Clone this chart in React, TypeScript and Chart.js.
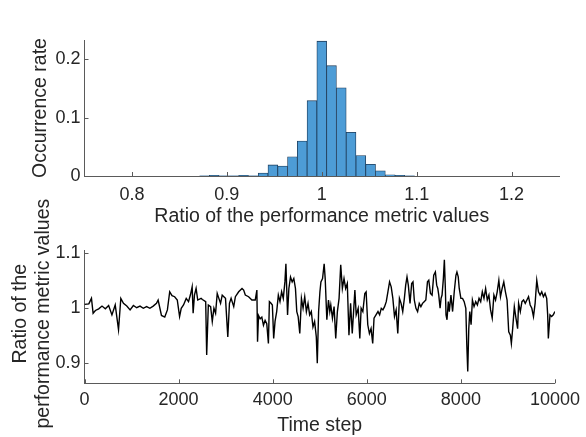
import React, { useEffect, useRef } from "react";
import { Chart, registerables } from "chart.js";

Chart.register(...registerables);

// ---- Histogram data ----
const binCenters = [
  0.8764, 0.8867, 0.897, 0.9073, 0.9176, 0.9279, 0.9382, 0.9485, 0.9588, 0.9691, 0.9794,
  0.9897, 1.0, 1.0103, 1.0206, 1.0309, 1.0412, 1.0515, 1.0618, 1.0721, 1.0824, 1.0927,
];
const occurrenceRates = [
  0.0005, 0.001, 0.0005, 0.0005, 0.001, 0.0005, 0.005, 0.019, 0.017, 0.033, 0.06,
  0.129, 0.231, 0.189, 0.151, 0.075, 0.035, 0.02, 0.009, 0.002, 0.001, 0.0005,
];
const histXTicks = [0.8, 0.9, 1, 1.1, 1.2];
const histYTicks = [0, 0.1, 0.2];
const histXTitle = "Ratio of the performance metric values";
const histYTitle = ["Occurrence rate"];

// ---- Time series data ----
const timeSteps = [
  0, 92, 148, 183, 232, 302, 372, 443, 513, 583, 653, 723, 772, 828, 899, 969, 1039, 1109, 1180, 1250,
  1320, 1390, 1460, 1530, 1565, 1636, 1706, 1762, 1811, 1860, 1916, 1972, 2021, 2056, 2105, 2162, 2211,
  2253, 2288, 2309, 2337, 2372, 2407, 2478,
  2506, 2576, 2597, 2632, 2681, 2716, 2751, 2786, 2821, 2856, 2892, 2927, 2962, 2997, 3046, 3081, 3116,
  3172, 3207, 3277, 3348, 3383, 3418, 3488, 3558, 3629, 3664, 3678, 3699, 3734, 3769, 3804, 3839, 3874,
  3909, 3930, 3965, 3993, 4021, 4050, 4085, 4120, 4155, 4190, 4225, 4260, 4281, 4316, 4344, 4379, 4414,
  4449, 4484, 4512, 4541, 4576, 4611, 4646, 4681, 4716, 4751, 4786, 4821, 4856, 4891, 4927, 4948, 4976,
  5004,
  5025, 5060, 5094, 5116, 5151, 5186, 5214, 5235, 5270, 5305, 5340, 5375, 5411, 5446, 5481, 5516, 5551,
  5586, 5621, 5656, 5691, 5726, 5747, 5775, 5817, 5852, 5880, 5916, 5958, 5986, 6021, 6056, 6091, 6126,
  6154, 6196, 6238, 6273, 6308, 6343, 6378, 6414, 6449, 6484, 6519, 6554, 6589, 6624, 6659, 6694, 6729,
  6764, 6799, 6827, 6855, 6883, 6919, 6954, 6982, 7010, 7045, 7080, 7115, 7150, 7185, 7220, 7255, 7290,
  7318, 7353, 7388, 7423, 7458, 7486,
  7509, 7530, 7558, 7579, 7600, 7628, 7649, 7670, 7684, 7705, 7733, 7754, 7789, 7824, 7859, 7895, 7916,
  7944, 7965, 8000, 8035, 8070, 8105, 8126, 8146, 8168, 8189, 8217, 8245, 8280, 8315, 8351, 8386, 8421,
  8456, 8491, 8526, 8561, 8596, 8631, 8666, 8702, 8737, 8772, 8807, 8842, 8877, 8912, 8947, 8982, 9017,
  9052, 9073, 9101, 9136, 9171, 9206, 9227, 9263, 9298, 9333, 9368, 9403, 9438, 9473, 9508, 9543, 9578,
  9613, 9649, 9684, 9719, 9754, 9789, 9824, 9845, 9859, 9894, 9929, 9964, 9999,
];
const ratioValues = [
  1.006, 1.007, 1.017, 0.99, 0.995, 0.998, 1.003, 0.998, 1.004, 0.987, 1.005, 0.96, 1.017, 1.008, 1.003,
  0.996, 1.004, 1.0, 1.003, 0.999, 1.002, 0.999, 1.003, 1.008, 1.014, 0.986, 0.983, 0.996, 1.029, 1.022,
  1.02, 1.014, 0.984, 0.999, 1.005, 1.017, 1.011, 1.024, 1.038, 0.99, 1.023, 1.035, 1.014, 1.017,
  1.015, 1.011, 0.914, 1.005, 1.002, 0.975, 0.999, 0.99, 1.026, 1.017, 1.008, 1.023, 1.02, 1.017, 0.947,
  1.008, 1.017, 1.002, 1.02, 1.029, 1.035, 1.032, 1.023, 1.02, 1.014, 1.014, 1.032, 0.938, 0.986, 0.98,
  0.983, 0.968, 0.977, 0.971, 0.935, 1.011, 1.008, 1.005, 0.944, 0.975, 0.993, 1.023, 1.011, 1.029, 1.017,
  1.047, 1.08, 0.987, 1.035, 1.056, 1.047, 1.053, 1.035, 0.993, 0.984, 0.953, 1.017, 0.999, 1.02, 0.993,
  1.008, 0.987, 0.993, 0.965, 0.975, 0.947, 0.899, 0.993, 1.029,
  1.047, 1.053, 1.08, 1.053, 0.978, 1.014, 0.993, 1.005, 0.981, 1.002, 0.944, 0.993, 1.017, 1.078, 1.035,
  1.053, 1.035, 1.044, 0.95, 1.008, 0.953, 1.002, 1.032, 0.987, 0.999, 0.944, 0.999, 0.993, 1.026, 1.029,
  0.969, 0.953, 0.962, 0.935, 0.981, 0.987, 0.993, 0.987, 0.999, 0.996, 1.002, 1.011, 1.029, 1.047, 1.038,
  1.017, 0.984, 0.996, 0.953, 1.017, 1.008, 0.993, 1.017, 1.041, 1.056, 1.041, 1.008, 1.044, 1.047, 1.014,
  0.999, 0.993, 1.008, 1.002, 1.008, 1.011, 1.014, 1.047, 1.05, 1.026, 1.023, 1.059, 1.065, 1.041,
  1.035, 1.023, 0.999, 1.017, 1.023, 1.053, 1.087, 1.035, 0.987, 0.978, 1.011, 0.993, 1.023, 0.993, 1.029,
  1.059, 1.065, 1.056, 1.035, 1.017, 1.017, 1.011, 0.999, 0.932, 0.884, 0.962, 0.993, 0.969, 1.014, 1.002,
  1.011, 1.005, 1.017, 1.011, 1.029, 1.017, 1.035, 1.014, 1.023, 0.996, 0.981, 1.023, 1.014, 1.029, 1.05,
  1.02, 1.035, 1.047, 1.029, 1.014, 0.956, 0.95, 0.935, 0.962, 1.002, 0.981, 0.962, 1.008, 0.993, 1.011,
  1.014, 1.008, 1.014, 1.02, 1.005, 0.999, 0.984, 1.008, 1.05, 1.029, 1.023, 1.029, 1.02, 1.026, 1.017,
  0.987, 0.944, 0.987, 0.984, 0.987, 0.993,
];
const lineXTicks = [0, 2000, 4000, 6000, 8000, 10000];
const lineYTicks = [0.9, 1, 1.1];
const lineXTitle = "Time step";
const lineYTitle = ["Ratio of the", "performance metric values"];

const FONT = "'Liberation Sans', Arial, Helvetica, sans-serif";
const TEXT = "#262626";
const AXIS = "#5a5a5a";

const inwardTicks = {
  id: "inwardTicks",
  afterDatasetsDraw(chart: any) {
    const { ctx, chartArea } = chart;
    const xs = chart.scales.x;
    const ys = chart.scales.y;
    ctx.save();
    ctx.strokeStyle = AXIS;
    ctx.lineWidth = 1;
    ctx.beginPath();
    xs.ticks.forEach((t: any) => {
      const px = Math.round(xs.getPixelForValue(t.value)) + 0.5;
      ctx.moveTo(px, chartArea.bottom);
      ctx.lineTo(px, chartArea.bottom - 4);
    });
    ys.ticks.forEach((t: any) => {
      const py = Math.round(ys.getPixelForValue(t.value)) + 0.5;
      ctx.moveTo(chartArea.left, py);
      ctx.lineTo(chartArea.left + 4, py);
    });
    ctx.stroke();
    ctx.restore();
  },
};

// Rotated y-axis title drawn without the width squeeze Chart.js applies
const makeYTitle = (lines: string[], firstX: number, lineGap: number, dy: number) => ({
  id: "yTitle",
  afterDraw(chart: any) {
    const { ctx, chartArea } = chart;
    const cy = (chartArea.top + chartArea.bottom) / 2 + dy;
    ctx.save();
    ctx.fillStyle = TEXT;
    ctx.font = `19.5px ${FONT}`;
    ctx.textAlign = "center";
    ctx.textBaseline = "middle";
    lines.forEach((line, i) => {
      ctx.save();
      ctx.translate(firstX + i * lineGap, cy);
      ctx.rotate(-Math.PI / 2);
      ctx.fillText(line, 0, 0);
      ctx.restore();
    });
    ctx.restore();
  },
});

const fixedTicks = (values: number[]) => (scale: any) => {
  scale.ticks = values.map((v) => ({ value: v }));
};

function axisX(min: number, max: number, ticks: number[], title: string, height: number, tickPad: number, titlePad: number) {
  return {
    type: "linear" as const,
    min,
    max,
    offset: false,
    afterBuildTicks: fixedTicks(ticks),
    afterFit: (s: any) => {
      s.height = height;
    },
    grid: { display: false, drawTicks: false },
    border: { display: true, color: AXIS, width: 1 },
    ticks: {
      autoSkip: false,
      maxRotation: 0,
      padding: tickPad,
      color: TEXT,
      font: { family: FONT, size: 18 },
      callback: (v: any) => String(v),
    },
    title: {
      display: true,
      text: title,
      color: TEXT,
      font: { family: FONT, size: 19.5, lineHeight: 1.2 },
      padding: { top: 0, bottom: titlePad },
    },
  };
}

function axisY(min: number, max: number, ticks: number[]) {
  return {
    type: "linear" as const,
    min,
    max,
    afterBuildTicks: fixedTicks(ticks),
    afterFit: (s: any) => {
      s.width = 84.5;
    },
    grid: { display: false, drawTicks: false },
    border: { display: true, color: AXIS, width: 1 },
    ticks: {
      padding: 4,
      color: TEXT,
      font: { family: FONT, size: 18 },
      callback: (v: any) => String(v),
    },
    title: { display: false },
  };
}

export default function App() {
  const topRef = useRef<HTMLCanvasElement>(null);
  const botRef = useRef<HTMLCanvasElement>(null);

  useEffect(() => {
    const hist = new Chart(topRef.current as HTMLCanvasElement, {
      type: "bar",
      data: {
        datasets: [
          {
            data: binCenters.map((c, i) => ({ x: c, y: occurrenceRates[i] })) as any,
            backgroundColor: "rgb(77,156,214)",
            borderColor: "#1d3a57",
            borderWidth: 0.8,
            barPercentage: 1,
            categoryPercentage: 1,
          },
        ],
      },
      options: {
        animation: false,
        responsive: false,
        devicePixelRatio: 1,
        layout: { padding: { top: 40, right: 27, left: 0, bottom: 0 } },
        plugins: { legend: { display: false }, tooltip: { enabled: false } },
        scales: {
          x: axisX(0.75, 1.25, histXTicks, histXTitle, 54, 8, 2) as any,
          y: axisY(0, 0.233, histYTicks) as any,
        },
      },
      plugins: [inwardTicks, makeYTitle(histYTitle, 41, 0, 0)],
    });

    const series = new Chart(botRef.current as HTMLCanvasElement, {
      type: "line",
      data: {
        datasets: [
          {
            data: timeSteps.map((t, i) => ({ x: t, y: ratioValues[i] })) as any,
            borderColor: "#000000",
            borderWidth: 1.4,
            pointRadius: 0,
            tension: 0,
            fill: false,
          },
        ],
      },
      options: {
        animation: false,
        responsive: false,
        devicePixelRatio: 1,
        layout: { padding: { top: 70, right: 27.5, left: 0, bottom: 0 } },
        plugins: { legend: { display: false }, tooltip: { enabled: false } },
        scales: {
          x: axisX(0, 10000, lineXTicks, lineXTitle, 53.7, 6, 0) as any,
          y: axisY(0.8625, 1.105, lineYTicks) as any,
        },
      },
      plugins: [inwardTicks, makeYTitle(lineYTitle, 21, 22.5, -3)],
    });

    return () => {
      hist.destroy();
      series.destroy();
    };
  }, []);

  return (
    <div style={{ position: "absolute", left: 0, top: 0, width: 586, height: 437, background: "#ffffff" }}>
      <canvas ref={topRef} width={586} height={230} style={{ position: "absolute", left: 0, top: 0 }} />
      <canvas ref={botRef} width={586} height={257} style={{ position: "absolute", left: 0, top: 180 }} />
    </div>
  );
}
